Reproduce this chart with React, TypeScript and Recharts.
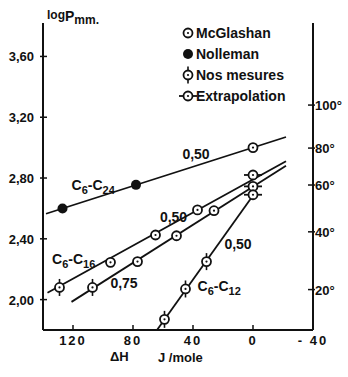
import { ComposedChart, Line, Scatter, XAxis, YAxis, ReferenceDot } from 'recharts';

const FONT = '"Liberation Sans", Arial, sans-serif';
const INK = '#111';

// straight fitted lines, ΔH (J/mole) -> log P (mm)
const c24Line = [{ x: 138, y: 2.565 }, { x: -22, y: 3.07 }];
const c16aLine = [{ x: 137, y: 2.045 }, { x: -22, y: 2.91 }];
const c16bLine = [{ x: 121, y: 1.985 }, { x: -22, y: 2.88 }];
const c12Line = [{ x: 64, y: 1.8 }, { x: 0, y: 2.685 }];

// measured points
const mcGlashan = [
  { x: 0, y: 3.0 },
  { x: 95, y: 2.245 }, { x: 65, y: 2.425 }, { x: 37, y: 2.59 },
  { x: 77, y: 2.25 }, { x: 51, y: 2.42 }, { x: 26, y: 2.585 },
];
const nolleman = [{ x: 127, y: 2.6 }, { x: 78, y: 2.755 }];
const nosMesures = [
  { x: 129, y: 2.08 }, { x: 107, y: 2.08 },
  { x: 59, y: 1.87 }, { x: 45, y: 2.07 }, { x: 31, y: 2.25 },
];
const extrapolation = [{ x: 0, y: 2.82 }, { x: 0, y: 2.745 }, { x: 0, y: 2.69 }];

const xTicks = [120, 80, 40, 0, -40];
const yTicks = [2.0, 2.4, 2.8, 3.2, 3.6];
// temperature scale on the right, placed on the log P scale
const tempTicks = [2.066, 2.446, 2.754, 2.997, 3.28];
const tempLabels = ['20°', '40°', '60°', '80°', '100°'];

// curve annotations: [text, subscript parts], anchored in data units
const annotations = [
  { x: 121, y: 2.72, parts: ['C', '6', '-C', '24'], anchor: 'start' },
  { x: 38, y: 2.925, parts: ['0,50'], anchor: 'middle' },
  { x: 134, y: 2.236, parts: ['C', '6', '-C', '16'], anchor: 'start' },
  { x: 53, y: 2.51, parts: ['0,50'], anchor: 'middle' },
  { x: 86, y: 2.079, parts: ['0,75'], anchor: 'middle' },
  { x: 37, y: 2.059, parts: ['C', '6', '-C', '12'], anchor: 'start' },
  { x: 10, y: 2.334, parts: ['0,50'], anchor: 'middle' },
];

const McG = ({ cx, cy }: any) => (
  <g>
    <circle cx={cx} cy={cy} r={4.5} fill="#fff" stroke={INK} strokeWidth={1.8} />
    <circle cx={cx} cy={cy} r={1.1} fill={INK} />
  </g>
);
const Noll = ({ cx, cy }: any) => <circle cx={cx} cy={cy} r={5} fill={INK} />;
const Nos = ({ cx, cy }: any) => (
  <g>
    <line x1={cx} x2={cx} y1={cy - 8.5} y2={cy + 8.5} stroke={INK} strokeWidth={1.6} />
    <McG cx={cx} cy={cy} />
  </g>
);
const Extra = ({ cx, cy }: any) => (
  <g>
    <line x1={cx - 9} x2={cx + 9} y1={cy} y2={cy} stroke={INK} strokeWidth={1.8} />
    <McG cx={cx} cy={cy} />
  </g>
);

const txt = { fontFamily: FONT, fontSize: 13, fontWeight: 'bold' as const, fill: INK };

const XTick = ({ x, y, payload }: any) => (
  <g>
    <line x1={x} x2={x} y1={y} y2={y - 5} stroke={INK} strokeWidth={1.5} />
    <text x={x} y={y + 15} textAnchor="middle" {...txt} letterSpacing={2}>
      {payload.value < 0 ? '- ' + Math.abs(payload.value) : payload.value}
    </text>
  </g>
);
const YTick = ({ x, y, payload }: any) => (
  <g>
    <line x1={x - 3} x2={x + 4} y1={y} y2={y} stroke={INK} strokeWidth={1.5} />
    <text x={x - 9} y={y + 5} textAnchor="end" {...txt}>
      {payload.value.toFixed(2).replace('.', ',')}
    </text>
  </g>
);
const TTick = ({ x, y, index }: any) => (
  <g>
    <line x1={x - 5} x2={x + 2} y1={y} y2={y} stroke={INK} strokeWidth={1.5} />
    <text x={x + 2} y={y + 5} textAnchor="start" {...txt}>
      {tempLabels[index]}
    </text>
  </g>
);

const Annot = (a: any) => ({ cx, cy }: any) => (
  <text x={cx} y={cy} textAnchor={a.anchor} {...txt} fontSize={14}>
    {a.parts.map((p: string, i: number) =>
      i % 2 === 1 ? (
        <tspan key={i} fontSize={11} dy={4}>{p}</tspan>
      ) : (
        <tspan key={i} dy={i === 0 ? 0 : -4}>{p}</tspan>
      )
    )}
  </text>
);

const legendRows = [
  { name: 'McGlashan', Shape: McG, y: 33 },
  { name: 'Nolleman', Shape: Noll, y: 54 },
  { name: 'Nos mesures', Shape: Nos, y: 75 },
  { name: 'Extrapolation', Shape: Extra, y: 96 },
];

export default function App() {
  return (
    <div style={{ position: 'absolute', left: 0, top: 0, width: 348, height: 377, background: '#fff' }}>
      <ComposedChart width={348} height={377} margin={{ top: 23, right: 0, bottom: 17, left: 8 }}>
        <XAxis
          type="number"
          dataKey="x"
          domain={[-40, 140]}
          reversed
          ticks={xTicks}
          allowDataOverflow
          height={30}
          axisLine={{ stroke: INK, strokeWidth: 2 }}
          tickLine={false}
          tickSize={0}
          tickMargin={0}
          tick={<XTick />}
        />
        <YAxis
          yAxisId="l"
          type="number"
          dataKey="y"
          domain={[1.8, 3.82]}
          ticks={yTicks}
          allowDataOverflow
          width={35}
          axisLine={{ stroke: INK, strokeWidth: 2 }}
          tickLine={false}
          tickSize={0}
          tickMargin={0}
          tick={<YTick />}
        />
        <YAxis
          yAxisId="r"
          orientation="right"
          type="number"
          domain={[1.8, 3.82]}
          ticks={tempTicks}
          allowDataOverflow
          width={35}
          axisLine={{ stroke: INK, strokeWidth: 2 }}
          tickLine={false}
          tickSize={0}
          tickMargin={0}
          tick={<TTick />}
        />
        {[c24Line, c16aLine, c16bLine, c12Line].map((d, i) => (
          <Line
            key={i}
            yAxisId="l"
            data={d}
            dataKey="y"
            type="linear"
            stroke={INK}
            strokeWidth={1.8}
            dot={false}
            activeDot={false}
            isAnimationActive={false}
          />
        ))}
        <Scatter yAxisId="l" data={mcGlashan} shape={<McG />} isAnimationActive={false} />
        <Scatter yAxisId="l" data={nolleman} shape={<Noll />} isAnimationActive={false} />
        <Scatter yAxisId="l" data={nosMesures} shape={<Nos />} isAnimationActive={false} />
        <Scatter yAxisId="l" data={extrapolation} shape={<Extra />} isAnimationActive={false} />
        {annotations.map((a, i) => (
          <ReferenceDot key={i} yAxisId="l" x={a.x} y={a.y} r={1} shape={Annot(a)} />
        ))}
      </ComposedChart>
      <svg width={348} height={377} style={{ position: 'absolute', left: 0, top: 0, pointerEvents: 'none' }}>
        <text x={47} y={19} {...txt} fontSize={12}>
          log<tspan fontSize={14} dy={2}>P</tspan>
          <tspan fontSize={12} dy={3}>mm.</tspan>
        </text>
        <text x={110} y={361} {...txt}>ΔH</text>
        <text x={158} y={362} {...txt}>J /mole</text>
        {legendRows.map((r) => (
          <g key={r.name}>
            <r.Shape cx={188} cy={r.y} />
            <text x={196} y={r.y + 5} {...txt} fontSize={14}>{r.name}</text>
          </g>
        ))}
      </svg>
    </div>
  );
}
